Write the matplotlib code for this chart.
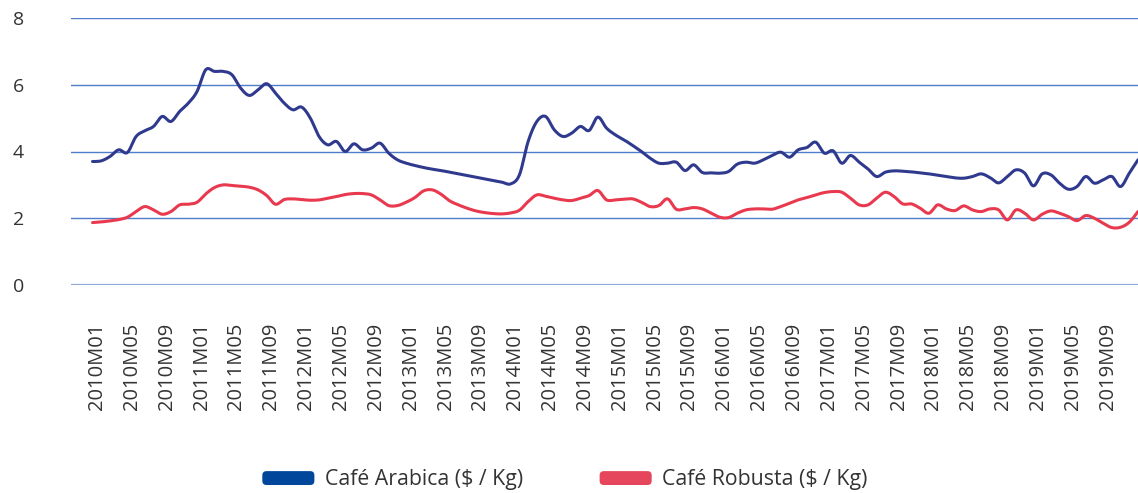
import numpy as np
import matplotlib
matplotlib.use("Agg")
import matplotlib.pyplot as plt
import matplotlib.transforms as mtransforms
from matplotlib.patches import Patch, FancyBboxPatch
from matplotlib.legend_handler import HandlerPatch

plt.rcParams['font.family'] = ['Open Sans', 'DejaVu Sans']

# Categories: monthly, 2010M01 .. 2020M01
years = list(range(2010, 2021))
categories = [f"{y}M{m:02d}" for y in years for m in range(1, 13)][:121]

arabica = [3.70, 3.72, 3.85, 4.05, 3.97, 4.45, 4.62, 4.75, 5.05, 4.90,
           5.20, 5.45, 5.80, 6.45, 6.40, 6.40, 6.30, 5.90, 5.68, 5.85,
           6.03, 5.75, 5.45, 5.25, 5.33, 5.00, 4.45, 4.20, 4.30, 4.00,
           4.23, 4.05, 4.10, 4.25, 3.95, 3.75, 3.65, 3.58, 3.52, 3.47,
           3.43, 3.38, 3.33, 3.28, 3.23, 3.18, 3.13, 3.08, 3.03, 3.30,
           4.30, 4.90, 5.05, 4.65, 4.45, 4.55, 4.75, 4.63, 5.03, 4.70,
           4.50, 4.35, 4.18, 4.00, 3.80, 3.65, 3.65, 3.68, 3.43, 3.60,
           3.37, 3.36, 3.35, 3.40, 3.62, 3.68, 3.65, 3.75, 3.88, 3.98,
           3.83, 4.05, 4.12, 4.28, 3.95, 4.02, 3.65, 3.88, 3.68, 3.48,
           3.25, 3.38, 3.42, 3.41, 3.39, 3.36, 3.33, 3.29, 3.25, 3.21,
           3.20, 3.25, 3.33, 3.22, 3.06, 3.25, 3.45, 3.35, 2.97, 3.33,
           3.30, 3.05, 2.87, 2.95, 3.25, 3.05, 3.15, 3.25, 2.95, 3.35,
           3.75]

robusta = [1.87, 1.89, 1.92, 1.96, 2.03, 2.20, 2.35, 2.25, 2.12, 2.20,
           2.40, 2.42, 2.48, 2.73, 2.92, 3.00, 2.98, 2.96, 2.93, 2.85,
           2.68, 2.42, 2.56, 2.58, 2.56, 2.54, 2.55, 2.60, 2.65, 2.71,
           2.74, 2.74, 2.70, 2.55, 2.38, 2.38, 2.48, 2.62, 2.82, 2.85,
           2.72, 2.52, 2.40, 2.30, 2.22, 2.17, 2.14, 2.13, 2.16, 2.24,
           2.50, 2.70, 2.66, 2.60, 2.55, 2.53, 2.60, 2.68, 2.83, 2.55,
           2.55, 2.57, 2.58, 2.48, 2.35, 2.38, 2.58, 2.27, 2.28, 2.32,
           2.28, 2.15, 2.03, 2.02, 2.15, 2.25, 2.28, 2.28, 2.27, 2.35,
           2.45, 2.55, 2.62, 2.70, 2.77, 2.80, 2.78, 2.60, 2.40, 2.40,
           2.60, 2.78, 2.65, 2.43, 2.43, 2.30, 2.15, 2.40, 2.28, 2.23,
           2.37, 2.25, 2.20, 2.28, 2.25, 1.95, 2.25, 2.15, 1.95, 2.12,
           2.22, 2.15, 2.05, 1.93, 2.08, 2.00, 1.85, 1.72, 1.73, 1.88,
           2.20]

series_names = ["Café Arabica ($ / Kg)", "Café Robusta ($ / Kg)"]
line_colors = ["#2f3a8f", "#e8394f"]
legend_colors = ["#00479b", "#e5465c"]
y_ticks = [0, 2, 4, 6, 8]


def smooth(xs, ys, n=12):
    """Excel-like smoothed line (Catmull-Rom via cubic Bezier)."""
    xs = np.asarray(xs, float)
    ys = np.asarray(ys, float)
    px = np.concatenate([[xs[0]], xs, [xs[-1]]])
    py = np.concatenate([[ys[0]], ys, [ys[-1]]])
    outx, outy = [], []
    t = np.linspace(0, 1, n, endpoint=False)
    for i in range(1, len(px) - 2):
        p0x, p1x, p2x, p3x = px[i - 1], px[i], px[i + 1], px[i + 2]
        p0y, p1y, p2y, p3y = py[i - 1], py[i], py[i + 1], py[i + 2]
        c1x = p1x + (p2x - p0x) / 6
        c1y = p1y + (p2y - p0y) / 6
        c2x = p2x - (p3x - p1x) / 6
        c2y = p2y - (p3y - p1y) / 6
        bx = ((1 - t) ** 3) * p1x + 3 * ((1 - t) ** 2) * t * c1x + 3 * (1 - t) * t ** 2 * c2x + t ** 3 * p2x
        by = ((1 - t) ** 3) * p1y + 3 * ((1 - t) ** 2) * t * c1y + 3 * (1 - t) * t ** 2 * c2y + t ** 3 * p2y
        outx.extend(bx)
        outy.extend(by)
    outx.append(xs[-1])
    outy.append(ys[-1])
    return np.array(outx), np.array(outy)


class RoundBoxHandler(HandlerPatch):
    def create_artists(self, legend, orig_handle, xdescent, ydescent,
                       width, height, fontsize, trans):
        hh = 10.0
        p = FancyBboxPatch((-xdescent, -ydescent + (height - hh) / 2), width, hh,
                           boxstyle="round,pad=0,rounding_size=3",
                           facecolor=orig_handle.get_facecolor(), edgecolor='none',
                           transform=trans)
        return [p]


fig = plt.figure(figsize=(11.38, 4.93), dpi=100)
ax = fig.add_axes([71 / 1138, (493 - 285) / 493, (1138 - 71) / 1138, 267 / 493])

x = np.arange(len(categories))
for vals, col in zip([arabica, robusta], line_colors):
    sx, sy = smooth(x, vals)
    ax.plot(sx, sy, color=col, lw=2.2, solid_capstyle='round', zorder=3, clip_on=False)

for yv in y_ticks:
    if yv == 0:
        ax.axhline(yv, color="#8eaadb", lw=1.6, zorder=1)
    else:
        ax.axhline(yv, color="#4f7dc9", lw=1.0, zorder=1)

ax.set_ylim(0, 8)
ax.set_xlim(-2.47, 120.0)
ax.set_yticks(y_ticks)
ax.set_yticklabels([str(v) for v in y_ticks], fontsize=14, color="#333333")
ax.tick_params(axis='y', length=0, pad=34)

tick_pos = x[:117:4]
ax.set_xticks(tick_pos)
ax.set_xticklabels([categories[i] for i in tick_pos], rotation=90, fontsize=14.5,
                   color="#333333", ha='center', va='top')
ax.tick_params(axis='x', length=0, pad=27)
offset = mtransforms.ScaledTranslation(4.5 / 100, 0, fig.dpi_scale_trans)
for lab in ax.get_xticklabels():
    lab.set_transform(lab.get_transform() + offset)

for s in ax.spines.values():
    s.set_visible(False)

handles = [Patch(facecolor=c) for c in legend_colors]
fig.legend(handles, series_names, loc='center', bbox_to_anchor=(565 / 1138, 1 - 480 / 493),
           ncol=2, frameon=False, fontsize=15.3, handlelength=2.45, handletextpad=0.5,
           columnspacing=3.6, labelcolor="#333333",
           handler_map={Patch: RoundBoxHandler()})

fig.savefig("out.png", dpi=100)
